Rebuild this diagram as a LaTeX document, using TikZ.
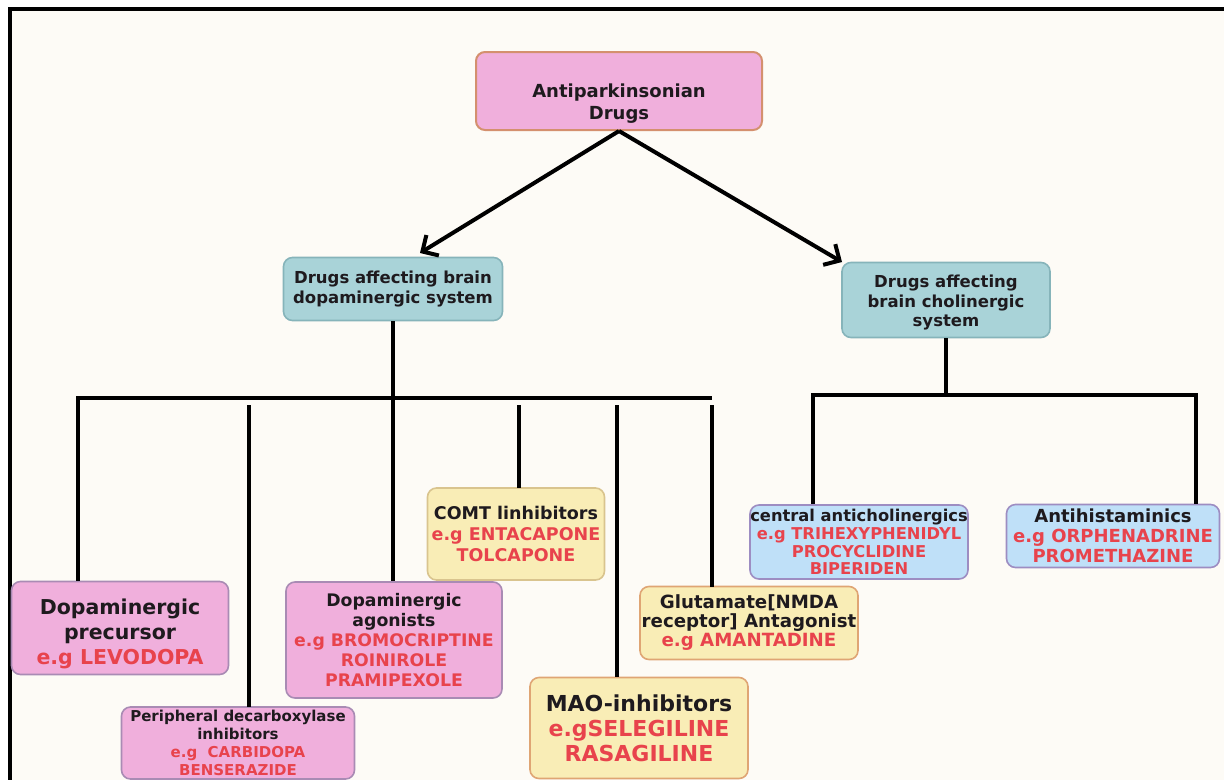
\documentclass[tikz,border=0pt]{standalone}
\usepackage{xcolor}
\usepackage{fontspec}
\setmainfont{DejaVu Sans}
\usetikzlibrary{arrows.meta}

\newcommand{\drug}[1]{\textcolor{drugred}{#1}}

\begin{document}
\begin{tikzpicture}[x=1pt,y=-1pt,
  box/.style={draw, rounded corners=9pt, line width=1.6pt, align=center, inner sep=0pt, text=ink},
  pinkbox/.style={box, fill=pinkfill, draw=pinkline},
  tealbox/.style={box, fill=tealfill, draw=tealline},
  yellowbox/.style={box, fill=yellowfill, draw=yellowline},
  bluebox/.style={box, fill=bluefill, draw=blueline},
  link/.style={line width=4pt, draw=black},
  fs/.style 2 args={font=\fontsize{#1}{#2}\selectfont\bfseries}
]
\definecolor{cream}{HTML}{FDFBF6}
\definecolor{ink}{HTML}{1E1A1E}
\definecolor{drugred}{HTML}{E8434C}
\definecolor{pinkfill}{HTML}{F0AFDC}
\definecolor{pinkline}{HTML}{A98BB4}
\definecolor{rootline}{HTML}{D4906E}
\definecolor{tealfill}{HTML}{A9D3D8}
\definecolor{tealline}{HTML}{86B4BA}
\definecolor{yellowfill}{HTML}{F9EDB6}
\definecolor{yellowline}{HTML}{D9C48E}
\definecolor{mline}{HTML}{DFA574}
\definecolor{bluefill}{HTML}{BFE0F8}
\definecolor{blueline}{HTML}{9D8DC2}

% Frame
\useasboundingbox (0,0) rectangle (1224,780);
\fill[white] (0,0) rectangle (1224,780);
\fill[cream] (10,9) rectangle (1224,780);
\draw[line width=4pt] (8,9) -- (1224,9);
\draw[line width=4pt] (10,9) -- (10,780);

% Top
\node[pinkbox, draw=rootline, line width=2pt, minimum width=286pt, minimum height=78pt, fs={18}{22}] (root) at (619,91) {\rule{0pt}{38pt}Antiparkinsonian\\Drugs};

% Second level
\node[tealbox, minimum width=219pt, minimum height=63pt, fs={16.5}{20}] (dopa) at (393,289) {Drugs affecting brain\\dopaminergic system};
\node[tealbox, minimum width=208pt, minimum height=75pt, fs={16.5}{19.5}] (chol) at (946,300) {\rule{0pt}{18pt}Drugs affecting\\brain cholinergic\\system};

% Dopaminergic branch
\node[pinkbox, minimum width=217pt, minimum height=93pt, fs={20.5}{25}] (prec) at (120,628) {\rule{0pt}{27pt}Dopaminergic\\precursor\\\drug{e.g LEVODOPA}};
\node[pinkbox, minimum width=233pt, minimum height=72pt, fs={15}{18}] (peri) at (238,743) {Peripheral decarboxylase\\inhibitors\\\drug{e.g\ \ CARBIDOPA}\\\drug{BENSERAZIDE}};
\node[pinkbox, minimum width=216pt, minimum height=116pt, fs={17.3}{19.8}] (agon) at (394,640) {Dopaminergic\\agonists\\\drug{e.g BROMOCRIPTINE}\\\drug{ROINIROLE}\\\drug{PRAMIPEXOLE}};
\node[yellowbox, minimum width=177pt, minimum height=92pt, fs={17.5}{21}] (comt) at (516,534) {COMT linhibitors\\\drug{e.g ENTACAPONE}\\\drug{TOLCAPONE}};
\node[yellowbox, draw=mline, minimum width=218pt, minimum height=101pt, fs={22}{25}] (mao) at (639,728) {MAO-inhibitors\\\drug{e.gSELEGILINE}\\\drug{RASAGILINE}};
\node[yellowbox, draw=mline, minimum width=218pt, minimum height=73pt, fs={18.2}{19}] (glut) at (749,623) {Glutamate[NMDA\\receptor] Antagonist\\\drug{e.g AMANTADINE}};

% Cholinergic branch
\node[bluebox, minimum width=218pt, minimum height=74pt, fs={16.3}{17.8}] (cent) at (859,542) {central anticholinergics\\\drug{e.g TRIHEXYPHENIDYL}\\\drug{PROCYCLIDINE}\\\drug{BIPERIDEN}};
\node[bluebox, minimum width=213pt, minimum height=63pt, fs={18}{20}] (anti) at (1113,536) {Antihistaminics\\\drug{e.g ORPHENADRINE}\\\drug{PROMETHAZINE}};

% Arrows
\draw[link, -{Straight Barb[length=12pt, width=24pt]}] (root.south) -- (420,253);
\draw[link, -{Straight Barb[length=12pt, width=24pt]}] (root.south) -- (842,262);

% Dopaminergic bus
\coordinate (busL) at (78,398);
\coordinate (busR) at (712,398);
\draw[link] (dopa.south) -- (dopa.south |- agon.north);
\draw[link] (busL |- prec.north) -- (busL) -- (busR);
\draw[link] (249,405) -- (249,707);
\draw[link] (519,405) -- (519,488);
\draw[link] (617,405) -- (617,677);
\draw[link] (712,405) -- (712,587);

% Cholinergic bus
\coordinate (cbusL) at (813,395);
\coordinate (cbusR) at (1196,395);
\draw[link] (chol.south) -- (chol.south |- cbusL);
\draw[link] (cbusL |- cent.north) -- (cbusL) -- (cbusR) -- (cbusR |- anti.north);

\end{tikzpicture}
\end{document}
